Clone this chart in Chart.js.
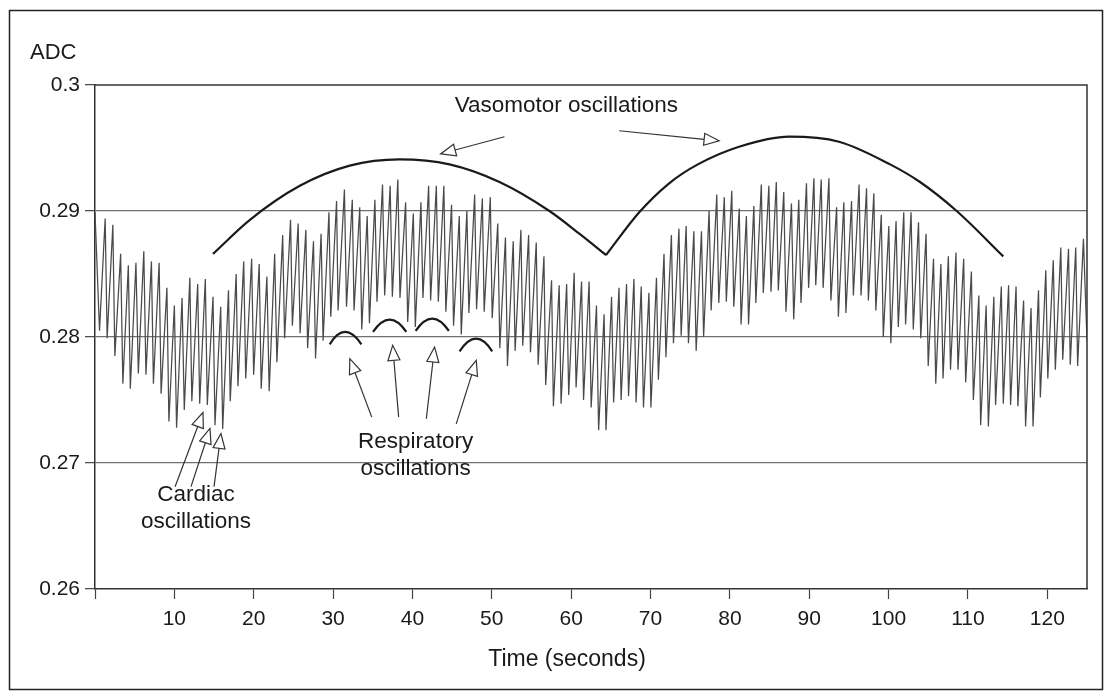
<!DOCTYPE html>
<html>
<head>
<meta charset="utf-8">
<script src="https://cdn.jsdelivr.net/npm/chart.js@4.4.1/dist/chart.umd.min.js"></script>
<style>
html,body{margin:0;padding:0;background:#fff;}
canvas{display:block;}
</style>
</head>
<body>
<canvas id="c" width="1111" height="697"></canvas>
<script>
// ---- Signal: peaks and troughs of the ADC trace (time in s, ADC value) ----
const peakTime = [0,1.28,2.25,3.23,4.20,5.16,6.15,7.11,8.08,9.06,10.00,10.97,11.95,12.94,13.90,14.87,15.84,16.82,17.79,18.74,19.74,20.69,21.66,22.64,23.65,24.64,25.60,26.57,27.53,28.49,29.48,30.44,31.43,32.42,33.36,34.30,35.27,36.23,37.19,38.16,39.14,40.11,41.07,42.04,43.01,43.96,44.93,45.90,46.86,47.84,48.81,49.81,50.75,51.72,52.70,53.67,54.64,55.60,56.57,57.53,58.49,59.43,60.38,61.31,62.26,63.19,64.15,65.09,66.03,66.98,67.91,68.83,69.80,70.75,71.70,72.63,73.58,74.49,75.46,76.42,77.38,78.35,79.30,80.24,81.18,82.08,83.02,83.96,84.91,85.85,86.79,87.76,88.68,89.65,90.59,91.51,92.48,93.45,94.36,95.33,96.28,97.22,98.14,99.08,100.03,100.94,101.91,102.83,103.77,104.72,105.66,106.59,107.53,108.49,109.46,110.43,111.37,112.29,113.26,114.20,115.12,116.06,117.01,117.95,118.89,119.81,120.75,121.70,122.67,123.58,124.55];
const peakADC = [0.2899,0.2894,0.2889,0.2866,0.2857,0.2859,0.2868,0.2860,0.2859,0.2839,0.2825,0.2831,0.2847,0.2842,0.2846,0.2832,0.2824,0.2837,0.2850,0.2860,0.2862,0.2858,0.2848,0.2866,0.2881,0.2893,0.2890,0.2885,0.2876,0.2882,0.2899,0.2908,0.2917,0.2909,0.2903,0.2896,0.2909,0.2921,0.2920,0.2925,0.2907,0.2898,0.2907,0.2920,0.2920,0.2920,0.2905,0.2896,0.2900,0.2913,0.2910,0.2911,0.2890,0.2879,0.2876,0.2885,0.2881,0.2875,0.2864,0.2845,0.2841,0.2842,0.2851,0.2844,0.2844,0.2825,0.2818,0.2832,0.2839,0.2842,0.2846,0.2840,0.2835,0.2847,0.2866,0.2881,0.2886,0.2888,0.2884,0.2884,0.2900,0.2913,0.2911,0.2916,0.2902,0.2896,0.2904,0.2921,0.2920,0.2923,0.2915,0.2906,0.2909,0.2922,0.2926,0.2925,0.2926,0.2903,0.2907,0.2908,0.2921,0.2918,0.2914,0.2897,0.2888,0.2892,0.2899,0.2899,0.2891,0.2882,0.2862,0.2858,0.2864,0.2867,0.2862,0.2852,0.2833,0.2825,0.2832,0.2840,0.2841,0.2840,0.2829,0.2823,0.2837,0.2853,0.2861,0.2871,0.2870,0.2871,0.2878];
const troughTime = [0.57,1.53,2.50,3.51,4.45,5.46,6.42,7.36,8.33,9.31,10.28,11.25,12.20,13.19,14.15,15.12,16.09,17.04,18.01,18.99,19.99,20.94,21.95,22.92,23.89,24.87,25.84,26.79,27.79,28.74,29.71,30.63,31.69,32.64,33.61,34.58,35.53,36.50,37.47,38.43,39.40,40.36,41.32,42.29,43.26,44.21,45.18,46.15,47.11,48.08,49.04,50.05,51.01,51.97,52.94,53.90,54.87,55.84,56.79,57.76,58.73,59.69,60.62,61.56,62.52,63.46,64.39,65.35,66.29,67.23,68.18,69.11,70.05,70.99,71.94,72.89,73.86,74.78,75.75,76.69,77.64,78.60,79.55,80.49,81.41,82.35,83.27,84.21,85.18,86.10,87.07,88.04,88.96,89.92,90.82,91.75,92.73,93.67,94.62,95.56,96.53,97.45,98.39,99.33,100.28,101.22,102.14,103.11,104.05,104.99,105.94,106.86,107.80,108.74,109.71,110.68,111.60,112.57,113.48,114.45,115.37,116.29,117.26,118.20,119.12,120.06,121.01,121.94,122.89,123.82,125.00];
const troughADC = [0.2805,0.2799,0.2785,0.2763,0.2759,0.2771,0.2770,0.2763,0.2755,0.2733,0.2728,0.2742,0.2749,0.2747,0.2746,0.2730,0.2727,0.2749,0.2761,0.2767,0.2770,0.2759,0.2757,0.2780,0.2799,0.2809,0.2803,0.2791,0.2783,0.2797,0.2816,0.2821,0.2824,0.2821,0.2806,0.2811,0.2828,0.2833,0.2832,0.2831,0.2812,0.2808,0.2831,0.2829,0.2828,0.2820,0.2809,0.2802,0.2819,0.2822,0.2820,0.2815,0.2791,0.2777,0.2789,0.2793,0.2788,0.2778,0.2762,0.2745,0.2747,0.2754,0.2760,0.2750,0.2744,0.2726,0.2726,0.2748,0.2750,0.2753,0.2748,0.2744,0.2744,0.2766,0.2784,0.2795,0.2801,0.2795,0.2789,0.2800,0.2821,0.2827,0.2828,0.2824,0.2810,0.2810,0.2827,0.2835,0.2836,0.2837,0.2820,0.2814,0.2827,0.2839,0.2841,0.2839,0.2829,0.2816,0.2819,0.2833,0.2833,0.2829,0.2821,0.2800,0.2795,0.2808,0.2810,0.2806,0.2799,0.2777,0.2763,0.2767,0.2774,0.2774,0.2764,0.2750,0.2730,0.2729,0.2746,0.2747,0.2746,0.2745,0.2729,0.2729,0.2752,0.2767,0.2774,0.2782,0.2778,0.2777,0.2797];

// ---- Vasomotor envelope arcs (annotation curves) ----
const vasoArc1Time = [14.87,19.52,25.81,32.10,38.38,44.67,50.97,57.26,61.03,64.39];
const vasoArc1ADC  = [0.2866,0.2893,0.2920,0.2936,0.2941,0.2937,0.2923,0.2900,0.2882,0.2865];
const vasoArc2Time = [64.39,68.58,72.35,75.96,81.16,87.45,93.74,100.19,103.96,108.58,114.45];
const vasoArc2ADC  = [0.2865,0.2899,0.2922,0.2937,0.2951,0.2959,0.2955,0.2937,0.2923,0.2900,0.2864];

// ---- Respiratory small arcs ----
const respArcStart = [29.58, 35.03, 40.40, 45.94];
const respArcApex  = [31.47, 37.13, 42.50, 48.04];
const respArcEnd   = [33.57, 39.23, 44.59, 50.05];
const respArcBase  = [0.27942, 0.28040, 0.28048, 0.27886];
const respArcTop   = [0.28040, 0.28138, 0.28146, 0.27987];

// ---- Arrows [tailTime, tailADC, tipTime, tipADC] ----
const vasoArrows = [[51.6,0.29589,43.55,0.29453],[66.06,0.29637,78.64,0.29557]];
const respArrows = [[34.87,0.27364,32.11,0.27828],[38.26,0.27364,37.51,0.27934],[41.75,0.27351,42.79,0.27920],[45.52,0.27311,48.04,0.27815]];
const cardArrows = [[10.09,0.26812,13.61,0.27401],[12.10,0.26812,14.49,0.27274],[15.00,0.26812,15.87,0.27234]];

// ---- Labels ----
const xTicks = [0,10,20,30,40,50,60,70,80,90,100,110,120];
const yTicks = [0.26,0.27,0.28,0.29,0.30];
const textLabels = [
  {text:'Vasomotor oscillations', t:59.4, v:0.29835},
  {text:'Respiratory', t:40.4, v:0.27170},
  {text:'oscillations', t:40.4, v:0.26956},
  {text:'Cardiac', t:12.73, v:0.26749},
  {text:'oscillations', t:12.73, v:0.26534}
];

const trace = [];
peakTime.forEach((t,i)=>trace.push({x:t,y:peakADC[i]}));
troughTime.forEach((t,i)=>trace.push({x:t,y:troughADC[i]}));
trace.sort((a,b)=>a.x-b.x);
const arc1 = vasoArc1Time.map((t,i)=>({x:t,y:vasoArc1ADC[i]}));
const arc2 = vasoArc2Time.map((t,i)=>({x:t,y:vasoArc2ADC[i]}));

const FONT = '"Liberation Sans", Arial, Helvetica, sans-serif';

function arrow(ctx,x1,y1,x2,y2){
  const a=Math.atan2(y2-y1,x2-x1), L=15, W=6;
  const bx=x2-L*Math.cos(a), by=y2-L*Math.sin(a);
  ctx.beginPath(); ctx.moveTo(x1,y1); ctx.lineTo(bx,by); ctx.stroke();
  ctx.beginPath(); ctx.moveTo(x2,y2);
  ctx.lineTo(bx+W*Math.sin(a), by-W*Math.cos(a));
  ctx.lineTo(bx-W*Math.sin(a), by+W*Math.cos(a));
  ctx.closePath(); ctx.fillStyle='#fff'; ctx.fill(); ctx.stroke();
}

const annot = {
  id:'annot',
  afterDatasetsDraw(chart){
    const ctx=chart.ctx, xs=chart.scales.x, ys=chart.scales.y, ca=chart.chartArea;
    ctx.save();
    ctx.strokeStyle='#333'; ctx.lineWidth=1.5;
    ctx.beginPath(); ctx.moveTo(ca.left,ca.top); ctx.lineTo(ca.right,ca.top); ctx.lineTo(ca.right,ca.bottom); ctx.stroke();
    ctx.strokeStyle='#1a1a1a'; ctx.lineWidth=2.2;
    for(let i=0;i<respArcStart.length;i++){
      const x0=xs.getPixelForValue(respArcStart[i]), x1=xs.getPixelForValue(respArcEnd[i]), xm=xs.getPixelForValue(respArcApex[i]);
      const yb=ys.getPixelForValue(respArcBase[i]), yt=ys.getPixelForValue(respArcTop[i]);
      ctx.beginPath(); ctx.moveTo(x0,yb); ctx.quadraticCurveTo(xm,2*yt-yb,x1,yb); ctx.stroke();
    }
    ctx.strokeStyle='#333'; ctx.lineWidth=1.2;
    [...vasoArrows,...respArrows,...cardArrows].forEach(a=>{
      arrow(ctx,xs.getPixelForValue(a[0]),ys.getPixelForValue(a[1]),xs.getPixelForValue(a[2]),ys.getPixelForValue(a[3]));
    });
    ctx.fillStyle='#1a1a1a'; ctx.font='22.5px '+FONT; ctx.textAlign='center'; ctx.textBaseline='middle';
    textLabels.forEach(l=>{ ctx.fillText(l.text, xs.getPixelForValue(l.t), ys.getPixelForValue(l.v)); });
    ctx.restore();
  },
  afterDraw(chart){
    const ctx=chart.ctx, ca=chart.chartArea;
    ctx.save();
    ctx.fillStyle='#1a1a1a'; ctx.textBaseline='middle';
    ctx.font='22px '+FONT; ctx.textAlign='left';
    ctx.fillText('ADC', 30, 53);
    ctx.font='23px '+FONT; ctx.textAlign='center';
    ctx.fillText('Time (seconds)', (ca.left+ca.right)/2 - 24, 660);
    ctx.strokeStyle='#222'; ctx.lineWidth=1.5;
    ctx.strokeRect(9.5,10.5,1093,679);
    ctx.restore();
  }
};

new Chart(document.getElementById('c'),{
  type:'line',
  data:{datasets:[
    {data:trace, borderColor:'#4a4a4a', borderWidth:1.25, pointRadius:0, tension:0, order:2},
    {data:arc1, borderColor:'#1a1a1a', borderWidth:2.2, pointRadius:0, cubicInterpolationMode:'monotone', order:1},
    {data:arc2, borderColor:'#1a1a1a', borderWidth:2.2, pointRadius:0, cubicInterpolationMode:'monotone', order:1}
  ]},
  options:{
    responsive:false, animation:false, devicePixelRatio:1,
    layout:{padding:{top:85,right:24,left:0,bottom:0}},
    plugins:{legend:{display:false}, tooltip:{enabled:false}},
    scales:{
      x:{type:'linear', min:0, max:125,
        afterFit(s){ s.height=108; },
        afterBuildTicks(s){ s.ticks = xTicks.map(v=>({value:v})); },
        ticks:{autoSkip:false, maxRotation:0, padding:8, color:'#1a1a1a', font:{family:FONT,size:21},
          callback:v=> v===0 ? '' : String(v)},
        grid:{drawOnChartArea:false, drawTicks:true, tickLength:10, tickColor:'#444', tickWidth:1.2},
        border:{color:'#333', width:1.5}
      },
      y:{type:'linear', min:0.26, max:0.30,
        afterFit(s){ s.width=95; },
        afterBuildTicks(s){ s.ticks = yTicks.map(v=>({value:v})); },
        ticks:{padding:5, color:'#1a1a1a', font:{family:FONT,size:21},
          callback:v=> String(parseFloat(Number(v).toFixed(2)))},
        grid:{color:c=> (c.tick && c.tick.value>0.2605 && c.tick.value<0.2995) ? '#707070' : 'rgba(0,0,0,0)',
          lineWidth:1.3, tickColor:'#444', tickLength:10, tickWidth:1.2, drawTicks:true},
        border:{color:'#333', width:1.5}
      }
    }
  },
  plugins:[annot]
});
</script>
</body>
</html>
